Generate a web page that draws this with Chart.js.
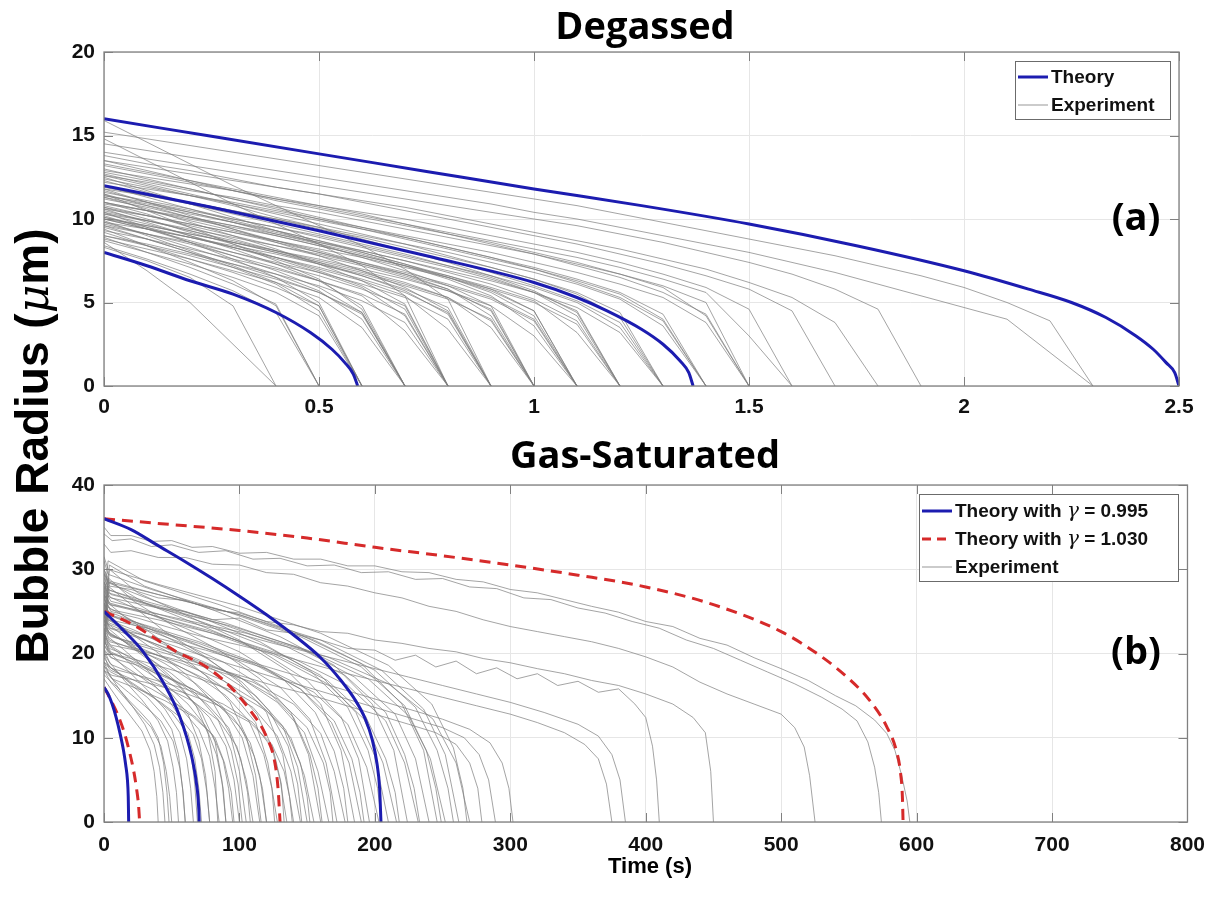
<!DOCTYPE html>
<html>
<head>
<meta charset="utf-8">
<script src="https://cdn.jsdelivr.net/npm/chart.js@4.4.1/dist/chart.umd.min.js"></script>
<style>
html,body{margin:0;padding:0;background:#fff;}
#wrap{position:relative;width:1216px;height:898px;overflow:hidden;}
#wrap canvas{position:absolute;left:0;top:0;}
</style>
</head>
<body>
<div id="wrap">
<canvas id="topChart" width="1216" height="898"></canvas>
<canvas id="bottomChart" width="1216" height="898"></canvas>
</div>
<script>
// ---------------- Panel (a): Degassed ----------------
const degassedXTicks = [0, 0.5, 1, 1.5, 2, 2.5];
const degassedYTicks = [0, 5, 10, 15, 20];
const degassedTime = [0,0.1,0.2,0.3,0.4,0.5,0.6,0.7,0.8,0.9,1.0,1.1,1.2,1.3,1.4,1.5,1.6,1.7,1.8,1.9,2.0,2.1,2.2,2.3];

const degassedTheory16 = [[0,16],[0.25,14.95],[0.5,13.9],[0.75,12.85],[1,11.8],[1.25,10.8],[1.5,9.7],[1.75,8.4],[2,6.9],[2.15,5.8],[2.25,5.0],[2.33,4.1],[2.4,3.0],[2.44,2.2],[2.47,1.4],[2.49,0.8],[2.5,0]];
const degassedTheory12 = [[0,12],[0.25,10.7],[0.5,9.3],[0.75,7.8],[1,6.2],[1.1,5.3],[1.17,4.5],[1.25,3.4],[1.3,2.5],[1.34,1.5],[1.36,0.8],[1.37,0]];
const degassedTheory8 = [[0,8],[0.1,7.2],[0.2,6.3],[0.3,5.5],[0.4,4.4],[0.48,3.2],[0.53,2.2],[0.56,1.4],[0.58,0.7],[0.59,0]];

// radii sampled at degassedTime frames
const degassedRuns = [
 [15.2,14.8,14.4,14.0,13.6,13.2,12.8,12.4,12.0,11.6,11.2,10.8,10.3,9.8,9.3,8.8,8.3,7.8,7.2,6.6,5.9,5.0,3.9,0],
 [14.5,14.1,13.7,13.3,12.9,12.5,12.1,11.7,11.3,10.9,10.4,10.0,9.5,9.0,8.5,8.0,7.4,6.8,6.1,5.4,4.7,4.0,2.0,0],
 [14.0,13.6,13.2,12.8,12.4,12.0,11.6,11.2,10.8,10.4,10.0,9.6,9.1,8.6,8.0,7.4,6.7,5.8,4.6,0],
 [13.5,13.1,12.7,12.3,11.9,11.5,11.1,10.7,10.2,9.7,9.2,8.7,8.2,7.6,7.0,6.2,5.3,3.8,0],
 [13.8,13.3,12.9,12.4,11.9,11.5,11.0,10.5,10.0,9.5,9.0,8.5,7.9,7.3,6.6,5.8,4.5,0],
 [12.9,12.5,12.1,11.7,11.2,10.8,10.4,10.0,9.5,9.0,8.5,8.0,7.4,6.7,5.9,4.6,0],
 [13.2,12.7,12.2,11.7,11.2,10.7,10.2,9.7,9.2,8.7,8.2,7.7,7.1,6.4,5.6,3.0,0],
 [12.6,12.2,11.7,11.3,10.8,10.4,9.9,9.4,8.9,8.4,7.9,7.3,6.7,6.0,5.0,0],
 [13.5,12.9,12.3,11.7,11.1,10.6,10.1,9.6,9.1,8.6,8.0,7.4,6.7,5.9,4.2,0],
 [12.2,11.8,11.4,11.0,10.5,10.0,9.5,9.0,8.5,8.0,7.4,6.8,6.1,5.3,3.8,0],
 [13.3,12.8,12.3,11.8,11.3,10.8,10.3,9.7,9.1,8.5,7.9,7.2,6.5,5.6,4.3,0],
 [12.4,11.9,11.4,10.9,10.4,9.9,9.4,8.9,8.3,7.7,7.1,6.4,5.6,4.3,0],
 [11.8,11.4,11.0,10.5,10.0,9.5,9.0,8.5,8.0,7.4,6.8,6.1,5.2,3.6,0],
 [13.0,12.4,11.8,11.2,10.6,10.0,9.4,8.8,8.2,7.6,7.0,6.3,5.5,4.0,0],
 [12.8,12.3,11.8,11.2,10.7,10.1,9.5,8.9,8.3,7.7,7.0,6.2,5.3,3.9,0],
 [12.0,11.5,11.0,10.5,10.0,9.4,8.9,8.3,7.7,7.1,6.4,5.6,4.4,0],
 [11.4,11.0,10.5,10.0,9.5,9.0,8.4,7.8,7.2,6.6,5.9,5.0,3.5,0],
 [12.7,12.1,11.5,10.9,10.3,9.7,9.1,8.5,7.8,7.1,6.4,5.5,4.1,0],
 [10.9,10.5,10.1,9.6,9.1,8.6,8.1,7.5,6.9,6.3,5.6,4.7,3.2,0],
 [11.9,11.4,10.9,10.4,9.9,9.3,8.7,8.1,7.5,6.8,6.0,5.1,3.8,0],
 [11.6,11.1,10.6,10.0,9.5,8.9,8.3,7.7,7.1,6.4,5.6,4.5,0],
 [10.6,10.2,9.7,9.2,8.7,8.2,7.7,7.1,6.5,5.8,5.0,3.7,0],
 [12.3,11.6,10.9,10.3,9.7,9.1,8.5,7.9,7.2,6.5,5.6,4.2,0],
 [11.0,10.5,10.0,9.5,9.0,8.4,7.8,7.2,6.6,5.9,5.1,3.2,0],
 [12.6,12.0,11.4,10.8,10.1,9.5,8.8,8.1,7.4,6.6,5.7,4.4,0],
 [11.3,10.8,10.3,9.8,9.3,8.7,8.1,7.5,6.8,6.1,5.2,3.9,0],
 [11.2,10.7,10.1,9.6,9.0,8.4,7.8,7.2,6.5,5.7,4.5,0],
 [10.3,9.9,9.4,8.9,8.4,7.9,7.3,6.7,6.0,5.2,3.9,0],
 [12.0,11.3,10.6,9.9,9.3,8.7,8.0,7.3,6.5,5.6,4.2,0],
 [10.0,9.6,9.1,8.6,8.1,7.6,7.0,6.4,5.7,4.8,3.0,0],
 [11.7,11.0,10.4,9.8,9.1,8.5,7.9,7.2,6.4,5.4,3.6,0],
 [11.4,10.9,10.4,9.8,9.2,8.6,8.0,7.3,6.6,5.8,4.5,0],
 [10.7,10.2,9.7,9.2,8.6,8.0,7.4,6.8,6.1,5.3,4.0,0],
 [10.8,10.2,9.6,9.0,8.4,7.8,7.2,6.5,5.7,4.6,0],
 [9.8,9.4,8.9,8.4,7.9,7.3,6.7,6.0,5.2,4.0,0],
 [11.5,10.8,10.1,9.4,8.7,8.0,7.3,6.6,5.8,4.5,0],
 [10.4,9.9,9.3,8.7,8.1,7.5,6.9,6.2,5.3,3.5,0],
 [11.0,10.5,9.9,9.3,8.7,8.1,7.4,6.7,5.8,4.2,0],
 [12.5,11.7,10.9,10.1,9.3,8.5,7.7,6.9,6.0,4.8,0],
 [10.1,9.6,9.1,8.6,8.0,7.4,6.8,6.1,5.3,3.9,0],
 [10.5,9.9,9.3,8.6,8.0,7.3,6.6,5.8,4.7,0],
 [9.6,9.1,8.6,8.0,7.4,6.8,6.1,5.3,4.0,0],
 [11.0,10.3,9.5,8.8,8.1,7.4,6.6,5.7,4.3,0],
 [10.1,9.5,8.9,8.3,7.7,7.0,6.3,5.4,3.4,0],
 [11.8,11.0,10.2,9.4,8.6,7.8,6.9,5.9,4.5,0],
 [10.0,9.4,8.9,8.3,7.7,7.1,6.4,5.6,4.4,0],
 [15.9,14.6,13.3,12.0,10.8,9.6,8.4,7.0,5.2,0],
 [10.0,9.4,8.7,8.0,7.3,6.6,5.8,4.8,0],
 [9.3,8.8,8.2,7.6,7.0,6.3,5.5,4.3,0],
 [10.7,10.0,9.2,8.5,7.7,6.9,6.0,4.6,0],
 [9.7,9.1,8.5,7.8,7.1,6.3,5.4,3.3,0],
 [10.3,9.7,9.0,8.3,7.6,6.8,5.9,4.2,0],
 [11.3,10.6,9.8,9.0,8.2,7.3,6.3,4.9,0],
 [9.0,8.5,7.9,7.3,6.7,6.0,5.1,3.8,0],
 [14.8,13.5,12.2,10.9,9.7,8.5,7.2,5.4,0],
 [9.5,8.8,8.0,7.3,6.5,5.6,4.4,0],
 [9.0,8.4,7.8,7.1,6.4,5.6,4.3,0],
 [10.2,9.4,8.6,7.8,6.9,5.9,4.4,0],
 [8.8,8.2,7.6,6.9,6.2,5.3,3.5,0],
 [9.8,9.1,8.3,7.5,6.7,5.7,4.0,0],
 [10.6,9.8,9.0,8.2,7.3,6.3,4.8,0],
 [11.5,10.5,9.5,8.5,7.5,6.4,4.6,0],
 [9.2,8.4,7.6,6.8,5.9,4.8,0],
 [8.7,8.0,7.3,6.5,5.6,4.2,0],
 [9.9,9.0,8.1,7.2,6.2,4.8,0],
 [9.6,8.8,8.0,7.1,6.1,4.5,0],
 [10.4,9.5,8.6,7.6,6.5,5.0,0],
 [8.9,8.0,7.1,6.1,4.9,0],
 [9.4,8.4,7.4,6.3,4.8,0],
 [8.4,7.6,6.7,5.7,4.4,0],
 [8.6,6.9,5.0,2.5,0],
 [8.3,7.5,6.5,4.8,0]
];

// ---------------- Panel (b): Gas-Saturated ----------------
const saturatedXTicks = [0,100,200,300,400,500,600,700,800];
const saturatedYTicks = [0,10,20,30,40];

const saturatedBlue16 = [[0,16],[3,15.2],[6,14],[9,12.4],[12,10.4],[14.5,8.4],[16,6.8],[17.3,5.0],[17.9,3],[18.1,1.2],[18.2,0]];
const saturatedBlue25 = [[0,25],[14,22.8],[29,20.2],[44,16.5],[56,12.5],[64.7,7.8],[68.9,3.8],[70,1.5],[70.3,0]];
const saturatedBlue36 = [[0,36],[20,34.7],[40,32.8],[60,30.9],[80,28.9],[100,26.8],[120,24.6],[140,22.2],[160,19.5],[175,16.8],[185,14.6],[193,12.2],[198,9.8],[201.5,7],[203.5,4],[204.5,0]];
const saturatedRed16 = [[0,16],[5,14.5],[10,12.8],[15,10.6],[19,8.2],[22,6.0],[24,4.0],[25.5,2.0],[26.3,0]];
const saturatedRed25 = [[0,25],[21.6,23.4],[53.6,20.2],[75.7,18.4],[93,16.1],[107.7,13.3],[120,10.1],[126.2,7.0],[128.6,3.8],[130,0]];
const saturatedRed36 = [[0,36],[50,35.3],[100,34.6],[150,33.7],[200,32.6],[250,31.6],[300,30.5],[350,29.3],[400,27.9],[450,25.8],[500,22.6],[530,19.6],[550,17.0],[565,14.5],[578,11.3],[585,8.5],[588,6],[589.5,3],[590,0]];

const saturatedRuns = [
 [[0,35],[5,34],[20,34],[35,33.3],[50,33.4],[65,32.6],[80,32.7],[100,31.9],[120,32],[140,31.2],[160,31.2],[180,30.4],[200,30.4],[220,29.7],[240,29.6],[260,28.8],[280,28.5],[300,27.6],[320,27.2],[340,26.4],[360,25.6],[380,24.9],[400,23.8],[420,23.2],[440,21.8],[460,21.0],[480,19.5],[500,18.2],[520,16.8],[540,15.0],[555,13.8],[569,12.1],[578,10.5],[584,8.5],[589,5.5],[593,2.5],[595,0]],
 [[0,34.2],[6,33.4],[20,33.6],[35,32.7],[50,32.9],[70,32],[90,32.2],[110,31.2],[130,31.3],[150,30.4],[170,30.5],[190,29.6],[210,29.7],[230,28.8],[250,28.9],[270,27.9],[290,27.7],[310,26.6],[330,26.4],[350,25.4],[370,24.8],[390,23.8],[410,23],[430,21.6],[450,20.6],[470,19.2],[490,17.8],[510,16.4],[530,14.8],[545,13.4],[556,12],[564,9.5],[569,6.5],[572,3.5],[574,0]],
 [[0,33],[5,32],[20,32.2],[40,31.4],[60,31.4],[80,30.6],[100,30.5],[120,29.6],[140,29.4],[160,28.4],[180,28],[200,27.2],[220,26.6],[240,25.6],[260,25],[280,24],[300,23.2],[320,22.6],[340,22],[360,21.4],[380,20.6],[400,19.6],[420,18.4],[440,16.6],[460,15.2],[480,14],[500,12.8],[510,11.2],[517,8.9],[521,5.5],[525,0]],
 [[0,29.5],[4,28],[20,27.6],[40,26.6],[60,26.3],[80,25.2],[100,24.8],[120,23.8],[140,23.4],[160,22.6],[180,22.4],[200,21.6],[220,21.2],[240,20.6],[260,20.2],[280,19.4],[300,18.9],[320,18.2],[340,17.6],[360,16.8],[380,16.2],[400,15.2],[420,14],[435,12.4],[444,10.6],[448,6],[450,0]],
 [[0,28.5],[5,27],[20,26.4],[40,25.4],[60,25],[80,24],[100,24.2],[120,22.8],[140,22.4],[160,21.6],[180,20.6],[200,20.4],[215,19.2],[230,19.8],[245,18.4],[260,19.1],[275,17.6],[290,18.3],[305,17],[320,17.6],[335,16.2],[350,16.7],[365,15.4],[380,15.8],[392,14],[400,12.4],[405,9],[408,5],[410,0]],
 [[0,27.8],[5,26.2],[25,25.4],[50,24.2],[75,23.2],[100,22.3],[125,21.2],[150,20.2],[175,19.2],[200,18.2],[225,17.2],[250,16.2],[275,15.2],[300,14.2],[325,13],[350,11.6],[365,10.2],[375,8],[381,5],[385,0]],
 [[0,26.5],[5,25],[25,24.2],[50,23],[75,21.9],[100,21],[125,20],[150,18.9],[175,17.8],[200,16.8],[225,15.8],[250,14.8],[275,13.8],[300,12.8],[320,11.8],[340,10.6],[355,9.2],[365,7.5],[371,4.5],[375,0]],
 [[0,26],[5,24.5],[25,23.4],[50,22],[75,20.6],[100,19.4],[125,18.2],[150,17],[175,15.8],[200,14.6],[225,13.4],[250,12.2],[270,11],[285,9.4],[294,7],[299,4],[302,0]],
 [[0,25],[4,23.6],[25,22.4],[50,21],[75,19.6],[100,18.4],[125,17.2],[150,16],[175,14.8],[200,13.6],[225,12.4],[250,11.2],[266,10],[277,8],[284,5],[289,0]],
 [[0,23.5],[5,22.2],[25,21],[50,19.8],[75,18.6],[100,17.4],[125,16.2],[150,15.2],[175,14],[200,12.8],[225,11.6],[245,10.6],[260,9.2],[270,7],[276,4],[279,0]],
 [[0,17],[5,15.8],[12,14.2],[20,12.5],[28,10.8],[34,8.5],[37,6],[39,3],[40,0]],
 [[0,19],[4,17.5],[12,15.6],[22,13.5],[30,11.6],[37,9.2],[41,6.5],[43.5,3.5],[45,0]],
 [[0,17.5],[4,16.8],[10,16],[18,14.5],[26,13.2],[34,11.8],[40,10],[44,7],[46.5,3.5],[48,0]],
 [[0,18],[5,16.6],[15,14.8],[25,13],[35,11.2],[42,9],[46,6],[48.5,3],[50,0]],
 [[0,20.5],[4,19],[15,16.8],[28,14.5],[40,12],[47,9.6],[51,6.5],[53.5,3.5],[55,0]],
 [[0,18.5],[6,17],[18,15.4],[30,13.8],[42,12],[51,9.6],[56,6.4],[58.5,3.4],[60,0]],
 [[0,20],[3,18.5],[12,17.6],[22,16],[32,14.8],[42,13],[50,11],[55,8],[58,4],[60,0]],
 [[0,22],[3,20.3],[15,18.4],[30,16],[45,13.4],[56,10.6],[61,7.5],[64,4],[66,0]],
 [[0,23],[3,21],[10,20.2],[22,18.4],[35,16.6],[48,14.4],[58,12],[64,8.6],[67,4.5],[69,0]],
 [[0,19.5],[5,18.3],[20,16.6],[35,15],[50,13],[62,10.5],[67,7.5],[70,4],[72,0]],
 [[0,18.5],[5,17.8],[15,17],[28,15.6],[42,14.2],[55,12.6],[66,10.4],[72,7.5],[76,3.5],[78,0]],
 [[0,24],[3,22],[15,20.4],[30,18.3],[48,15.6],[62,12.8],[70,9.6],[75,5.5],[78,0]],
 [[0,26],[3,23.5],[12,22.4],[25,20.4],[40,18.6],[55,16.4],[68,13.8],[77,10.4],[82,6],[84,0]],
 [[0,21],[5,19.6],[20,18],[38,16],[55,13.8],[70,11],[78,7.8],[82,4],[85,0]],
 [[0,21.5],[5,20.2],[18,19.2],[32,17.8],[48,16],[62,14],[75,11.4],[83,8],[88,4],[90,0]],
 [[0,25],[3,23],[18,21],[35,19],[55,16.2],[72,13],[82,9.5],[87,5],[90,0]],
 [[0,18],[6,17],[25,15.8],[45,14.4],[65,12.6],[80,10.4],[88,7.3],[92,4],[95,0]],
 [[0,19],[5,18],[20,17],[35,15.8],[52,14.2],[68,12.4],[82,10],[89,7],[94,3.5],[96,0]],
 [[0,22.5],[4,21],[20,19.4],[40,17.4],[60,15.2],[78,12.4],[90,9],[96,5],[100,0]],
 [[0,24.5],[3,22.6],[15,21.4],[32,19.6],[50,17.6],[68,15.2],[84,12.2],[94,8.4],[99,4.5],[102,0]],
 [[0,27],[3,24.5],[18,22.6],[38,20.3],[60,17.6],[80,14.3],[93,10.5],[100,6],[105,0]],
 [[0,22],[4,20.6],[20,19.6],[38,18],[58,16.2],[76,14],[92,11.2],[101,7.5],[106,3.5],[108,0]],
 [[0,20],[5,18.7],[25,17.4],[45,16],[65,14.4],[85,12],[98,9],[105,5],[110,0]],
 [[0,24],[4,22.4],[22,20.8],[45,18.8],[68,16.4],[88,13.6],[102,10],[110,5.5],[115,0]],
 [[0,28],[3,26],[15,24.4],[35,22.4],[55,20],[75,17.4],[93,14.2],[105,10.2],[112,5.5],[116,0]],
 [[0,21.5],[5,20],[25,18.8],[50,17],[75,15],[95,12.5],[108,9.4],[115,5.5],[120,0]],
 [[0,20.5],[5,19.5],[25,18.6],[45,17.2],[65,15.8],[85,13.8],[101,11.2],[111,7.8],[117,4],[120,0]],
 [[0,23.5],[4,22.2],[22,21],[45,19.4],[68,17.4],[90,15],[107,12],[118,8],[124,4],[126,0]],
 [[0,26],[3,24],[20,22.4],[45,20.4],[70,18],[95,15.2],[112,11.8],[121,7],[128,0]],
 [[0,25.5],[3,24],[22,22.8],[48,20.8],[72,18.6],[95,16],[113,12.8],[125,8.6],[131,4.5],[133,0]],
 [[0,19],[6,18.2],[30,17.2],[60,15.8],[88,14],[110,11.8],[124,8.8],[130,5],[135,0]],
 [[0,18],[6,17.4],[30,16.6],[58,15.4],[85,13.8],[108,11.8],[124,9.2],[133,6],[137,3],[139,0]],
 [[0,21],[3,28],[20,25.8],[45,22.6],[75,19.6],[100,16.6],[120,13],[132,8],[140,0]],
 [[0,23],[4,21.6],[25,20.3],[55,18.5],[85,16.2],[110,13.6],[128,10.2],[138,6],[145,0]],
 [[0,27.5],[3,25.5],[20,24],[48,21.8],[76,19.4],[102,16.6],[122,13.2],[136,9],[143,4.5],[146,0]],
 [[0,25],[3,23.5],[25,22],[55,20],[85,17.8],[112,15],[132,11.4],[143,6.5],[150,0]],
 [[0,22.5],[4,21.4],[28,20.4],[58,18.8],[88,16.8],[114,14.2],[134,11],[145,7],[150,3],[152,0]],
 [[0,21],[5,20],[30,19],[60,17.6],[95,15.6],[120,13.2],[138,10],[148,5.5],[155,0]],
 [[0,20],[3,29],[22,26.2],[50,23.4],[85,20.4],[115,17],[138,13],[151,8],[160,0]],
 [[0,26],[3,24.6],[25,23.2],[55,21.4],[88,19],[118,16],[140,12.4],[152,8],[158,4],[161,0]],
 [[0,24.5],[4,23],[30,21.6],[65,19.6],[100,17.2],[128,14.2],[148,10.6],[158,6],[166,0]],
 [[0,23],[5,22],[30,21],[65,19.4],[100,17.2],[128,14.6],[150,11.2],[162,7],[167,3.5],[169,0]],
 [[0,27],[3,25],[25,23.6],[60,21.6],[100,19],[130,16],[152,12.2],[164,7],[172,0]],
 [[0,22],[5,21],[35,20],[70,18.6],[110,16.6],[140,14],[160,10.5],[170,6],[178,0]],
 [[0,28.5],[3,26.8],[25,25.2],[60,23],[100,20.2],[132,17],[156,13],[170,8.4],[177,4],[180,0]],
 [[0,21],[4,30],[25,27.2],[60,24.6],[100,21.6],[135,18],[160,14],[175,8.5],[185,0]],
 [[0,26],[4,24.6],[30,23.4],[70,21.4],[110,19],[145,15.8],[168,11.8],[181,7],[190,0]],
 [[0,25],[4,24],[32,23],[70,21.2],[110,18.8],[145,15.8],[170,12],[183,7.5],[189,3.5],[192,0]],
 [[0,19.5],[4,28.5],[30,26],[70,23.4],[115,20.4],[150,16.8],[175,12.5],[188,7.5],[196,0]],
 [[0,24],[5,23],[35,22],[75,20.4],[120,18.2],[155,15.4],[180,11.6],[194,6.5],[203,0]],
 [[0,30],[3,28.4],[28,26.8],[70,24.4],[115,21.4],[152,18],[180,13.6],[195,8.5],[202,4],[205,0]],
 [[0,29.5],[3,27.6],[30,26],[75,23.6],[120,20.8],[160,17.4],[186,13],[200,7.8],[210,0]],
 [[0,27.5],[4,26],[35,24.6],[80,22.4],[125,19.8],[165,16.4],[192,12.2],[206,7],[216,0]],
 [[0,27],[4,25.8],[35,24.6],[80,22.6],[125,20],[165,16.8],[193,12.6],[208,7.5],[215,3.5],[218,0]],
 [[0,24],[4,30.5],[30,28],[80,25.2],[130,22],[170,18.6],[198,14],[214,8.5],[224,0]],
 [[0,26.5],[5,25.2],[40,24],[90,22],[140,19.4],[180,16.2],[208,12],[222,7],[232,0]],
 [[0,28.5],[3,27.2],[35,25.8],[85,23.6],[135,20.8],[178,17.4],[208,13],[222,8],[229,4],[233,0]],
 [[0,29],[4,27.5],[35,26],[90,23.6],[145,20.6],[185,17.2],[215,12.8],[230,7.5],[240,0]],
 [[0,26],[3,31],[30,28.6],[85,25.8],[140,22.6],[190,18.8],[220,14],[236,8.5],[246,0]],
 [[0,31],[3,29.4],[35,27.6],[90,25],[145,22],[190,18.4],[222,13.8],[238,8.5],[245,4],[249,0]],
 [[0,28],[5,26.6],[40,25.4],[95,23.2],[150,20.4],[195,17],[225,12.6],[241,7.5],[252,0]],
 [[0,29.5],[4,28.4],[40,27],[100,24.6],[155,21.6],[200,18],[230,13.6],[246,8.5],[254,4],[258,0]],
 [[0,30],[4,28.6],[40,27],[100,24.6],[160,21.6],[205,18],[236,13.4],[252,8],[262,0]],
 [[0,31.5],[3,30],[40,28.2],[100,25.6],[160,22.4],[210,18.6],[242,14],[258,8.8],[265,4],[268,0]],
 [[0,27],[5,25.8],[45,24.5],[105,22.4],[165,19.6],[210,16.4],[243,12.2],[260,7],[270,0]]
];

// ---------------- styling ----------------
const BLUE = '#1c1cb0';
const RED = '#d62a2a';
const GRAY = 'rgba(125,125,125,0.7)';
const TICK_FONT = {family: '"Liberation Sans", Arial, sans-serif', size: 21, weight: 'bold'};
const SANS = '"Liberation Sans", Arial, sans-serif';
const TITLE_FAMILY = '"Open Sans", "Liberation Sans", sans-serif';

function toPoints(pairs) { return pairs.map(p => ({x: p[0], y: p[1]})); }

function theoryDataset(pairs, color, dash) {
  return {data: toPoints(pairs), borderColor: color, borderWidth: 3, borderDash: dash || [],
    tension: 0.4, cubicInterpolationMode: 'monotone', pointRadius: 0, fill: false};
}
function runDataset(points) {
  return {data: points, borderColor: GRAY, borderWidth: 1, tension: 0, pointRadius: 0, fill: false};
}

function drawFrame(chart, xTicks, yTicks) {
  const {ctx, chartArea: a, scales: {x, y}} = chart;
  ctx.save();
  ctx.strokeStyle = '#808080';
  ctx.lineWidth = 1.3;
  ctx.strokeRect(a.left, a.top, a.right - a.left, a.bottom - a.top);
  ctx.lineWidth = 1;
  ctx.beginPath();
  xTicks.forEach(v => {
    const px = Math.round(x.getPixelForValue(v)) + 0.5;
    ctx.moveTo(px, a.bottom); ctx.lineTo(px, a.bottom - 9);
    ctx.moveTo(px, a.top); ctx.lineTo(px, a.top + 9);
  });
  yTicks.forEach(v => {
    const py = Math.round(y.getPixelForValue(v)) + 0.5;
    ctx.moveTo(a.left, py); ctx.lineTo(a.left + 9, py);
    ctx.moveTo(a.right, py); ctx.lineTo(a.right - 9, py);
  });
  ctx.stroke();
  ctx.restore();
}

function drawSegments(ctx, segs, x, y) {
  let cx = x;
  segs.forEach(s => { ctx.font = s.font; ctx.fillText(s.text, cx, y); cx += ctx.measureText(s.text).width; });
}
function segWidth(ctx, segs) {
  let w = 0;
  segs.forEach(s => { ctx.font = s.font; w += ctx.measureText(s.text).width; });
  return w;
}

function drawLegend(ctx, box, items) {
  ctx.save();
  ctx.fillStyle = '#ffffff';
  ctx.fillRect(box.x, box.y, box.w, box.h);
  ctx.strokeStyle = '#6b6b6b';
  ctx.lineWidth = 1;
  ctx.strokeRect(box.x + 0.5, box.y + 0.5, box.w, box.h);
  items.forEach(it => {
    ctx.beginPath();
    ctx.strokeStyle = it.color;
    ctx.lineWidth = it.width;
    ctx.setLineDash(it.dash || []);
    ctx.moveTo(box.x + 3, it.y); ctx.lineTo(box.x + 33, it.y);
    ctx.stroke();
    ctx.setLineDash([]);
    ctx.fillStyle = '#111';
    ctx.textBaseline = 'middle';
    ctx.textAlign = 'left';
    drawSegments(ctx, it.segs, box.x + 36, it.y + 1);
  });
  ctx.restore();
}

const LEG_BOLD = 'bold 19px ' + SANS;
const LEG_GREEK = 'italic 20px "DejaVu Serif", serif';

const topDecor = {
  id: 'topDecor',
  afterDatasetsDraw(chart) {
    const ctx = chart.ctx;
    const {x, y} = chart.scales;
    drawFrame(chart, degassedXTicks, degassedYTicks);
    drawLegend(ctx, {x: 1015, y: 61, w: 155, h: 58}, [
      {color: BLUE, width: 3, y: 77, segs: [{text: 'Theory', font: LEG_BOLD}]},
      {color: 'rgba(125,125,125,0.8)', width: 1, y: 105, segs: [{text: 'Experiment', font: LEG_BOLD}]}
    ]);
    ctx.save();
    ctx.fillStyle = '#000';
    ctx.textAlign = 'center';
    ctx.textBaseline = 'alphabetic';
    ctx.font = 'bold 38px ' + TITLE_FAMILY;
    ctx.fillText('Degassed', 645, 39);
    ctx.textBaseline = 'middle';
    ctx.font = 'bold 38px ' + TITLE_FAMILY;
    ctx.fillText('(a)', x.getPixelForValue(2.40), y.getPixelForValue(10));
    ctx.restore();
    // shared y-axis title
    ctx.save();
    ctx.translate(48, 446);
    ctx.rotate(-Math.PI / 2);
    ctx.fillStyle = '#000';
    ctx.textBaseline = 'alphabetic';
    ctx.textAlign = 'left';
    const segs = [
      {text: 'Bubble Radius (', font: 'bold 46px ' + SANS},
      {text: '\u03bc', font: 'italic 44px "DejaVu Serif", serif'},
      {text: 'm)', font: 'bold 46px ' + SANS}
    ];
    drawSegments(ctx, segs, -segWidth(ctx, segs) / 2, 0);
    ctx.restore();
  }
};

const bottomDecor = {
  id: 'bottomDecor',
  afterDatasetsDraw(chart) {
    const ctx = chart.ctx;
    const {x, y} = chart.scales;
    drawFrame(chart, saturatedXTicks, saturatedYTicks);
    drawLegend(ctx, {x: 919, y: 494, w: 259, h: 87}, [
      {color: BLUE, width: 3, y: 511, segs: [{text: 'Theory with ', font: LEG_BOLD}, {text: '\u03b3', font: LEG_GREEK}, {text: ' = 0.995', font: LEG_BOLD}]},
      {color: RED, width: 3, dash: [9, 6], y: 539, segs: [{text: 'Theory with ', font: LEG_BOLD}, {text: '\u03b3', font: LEG_GREEK}, {text: ' = 1.030', font: LEG_BOLD}]},
      {color: 'rgba(125,125,125,0.8)', width: 1, y: 567, segs: [{text: 'Experiment', font: LEG_BOLD}]}
    ]);
    ctx.save();
    ctx.fillStyle = '#000';
    ctx.textAlign = 'center';
    ctx.textBaseline = 'alphabetic';
    ctx.font = 'bold 38px ' + TITLE_FAMILY;
    ctx.fillText('Gas-Saturated', 645, 468);
    ctx.textBaseline = 'middle';
    ctx.fillText('(b)', x.getPixelForValue(762), y.getPixelForValue(20));
    ctx.font = 'bold 22px ' + SANS;
    ctx.textBaseline = 'middle';
    ctx.fillText('Time (s)', 650, 867);
    ctx.restore();
  }
};

function axisOptions(min, max, ticksArr, pad, fitSize, isX) {
  return {
    type: 'linear', min: min, max: max,
    afterBuildTicks: s => { s.ticks = ticksArr.map(v => ({value: v})); },
    afterFit: s => { if (isX) s.height = fitSize; else s.width = fitSize; },
    ticks: {font: TICK_FONT, color: '#111', padding: pad, maxRotation: 0, autoSkip: false,
      callback: v => String(v)},
    grid: {color: '#e6e6e6', lineWidth: 1, drawTicks: false},
    border: {display: false}
  };
}

const commonOpts = (padding, xs, ys) => ({
  responsive: false,
  animation: false,
  events: [],
  layout: {padding: padding},
  plugins: {legend: {display: false}, tooltip: {enabled: false}, title: {display: false}},
  elements: {point: {radius: 0}, line: {borderJoinStyle: 'round'}},
  scales: {x: xs, y: ys}
});

// Top chart
const topDatasets = [
  theoryDataset(degassedTheory16, BLUE),
  theoryDataset(degassedTheory12, BLUE),
  theoryDataset(degassedTheory8, BLUE)
].concat(degassedRuns.map(r => runDataset(r.map((v, i) => ({x: degassedTime[i], y: v})))));

new Chart(document.getElementById('topChart'), {
  type: 'line',
  data: {datasets: topDatasets},
  options: commonOpts({left: 0, right: 37, top: 52, bottom: 472},
    axisOptions(0, 2.5, degassedXTicks, 9, 40, true),
    axisOptions(0, 20, degassedYTicks, 9, 104, false)),
  plugins: [topDecor]
});

// Bottom chart
const bottomDatasets = [
  theoryDataset(saturatedBlue16, BLUE),
  theoryDataset(saturatedBlue25, BLUE),
  theoryDataset(saturatedBlue36, BLUE),
  theoryDataset(saturatedRed16, RED, [11, 7]),
  theoryDataset(saturatedRed25, RED, [11, 7]),
  theoryDataset(saturatedRed36, RED, [11, 7])
].concat(saturatedRuns.map(r => runDataset(toPoints(r))));

new Chart(document.getElementById('bottomChart'), {
  type: 'line',
  data: {datasets: bottomDatasets},
  options: commonOpts({left: 0, right: 28, top: 485, bottom: 36},
    axisOptions(0, 800, saturatedXTicks, 11, 40, true),
    axisOptions(0, 40, saturatedYTicks, 9, 104, false)),
  plugins: [bottomDecor]
});
</script>
</body>
</html>
